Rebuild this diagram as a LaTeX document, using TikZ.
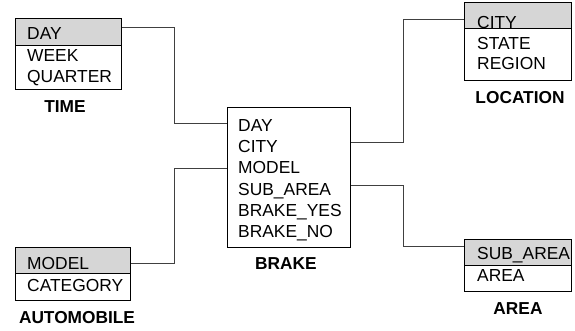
\documentclass[tikz,border=0pt]{standalone}
\usepackage{fontspec}
\setmainfont{Liberation Sans}
\begin{document}
\begin{tikzpicture}[x=1pt,y=-1pt,
  hdr/.style={draw=black,fill=black!16,line width=0.9pt,inner sep=0pt,anchor=north west},
  bodybox/.style={draw=black,fill=white,line width=0.9pt,inner sep=0pt,anchor=north west},
  fld/.style={anchor=base west,inner sep=0pt,font=\fontsize{17.4}{20}\selectfont},
  ttl/.style={anchor=base,inner sep=0pt,font=\fontsize{17.3}{20}\selectfont\bfseries},
  conn/.style={draw=black!75,line width=0.9pt}]
\useasboundingbox (0,0) rectangle (575,330);
% TIME
\node[bodybox,minimum width=106pt,minimum height=71pt] (timeb) at (15,18) {};
\node[hdr,minimum width=106pt,minimum height=27pt] (timeh) at (15,18) {};
\node[fld] (t1) at (27,39) {DAY};
\node[fld] (t2) at (27,61) {WEEK};
\node[fld] (t3) at (27,82) {QUARTER};
\node[ttl] (tl) at (65,112) {TIME};
% BRAKE
\node[bodybox,minimum width=123pt,minimum height=140pt] (brake) at (227,107) {};
\node[fld] (b1) at (238,131) {DAY};
\node[fld] (b2) at (238,152) {CITY};
\node[fld] (b3) at (238,173) {MODEL};
\node[fld] (b4) at (238,195) {SUB\_AREA};
\node[fld] (b5) at (238,216) {BRAKE\_YES};
\node[fld] (b6) at (238,237) {BRAKE\_NO};
\node[ttl] (bl) at (286,269) {BRAKE};
% LOCATION
\node[bodybox,minimum width=107pt,minimum height=78pt] (locb) at (464,2) {};
\node[hdr,minimum width=107pt,minimum height=26pt] (loch) at (464,2) {};
\node[fld] (l1) at (477,28) {CITY};
\node[fld] (l2) at (477,49) {STATE};
\node[fld] (l3) at (477,69) {REGION};
\node[ttl] (ll) at (520,103) {LOCATION};
% AUTOMOBILE
\node[bodybox,minimum width=115pt,minimum height=53pt] (autob) at (15,247) {};
\node[hdr,minimum width=115pt,minimum height=26pt] (autoh) at (15,247) {};
\node[fld] (a1) at (27,269) {MODEL};
\node[fld] (a2) at (27,291) {CATEGORY};
\node[ttl] (al) at (77,323) {AUTOMOBILE};
% AREA
\node[bodybox,minimum width=107pt,minimum height=52pt] (areab) at (464,239) {};
\node[hdr,minimum width=107pt,minimum height=26pt] (areah) at (464,239) {};
\node[fld] (r1) at (477,259) {SUB\_AREA};
\node[fld] (r2) at (477,281) {AREA};
\node[ttl] (rl) at (518,314) {AREA};
% connectors
\coordinate (j1) at (174,27);
\coordinate (j2) at (174,263);
\coordinate (j3) at (403,19);
\coordinate (j4) at (403,246);
\draw[conn] (timeh.east |- j1) -- (j1) |- (brake.west |- 0,123);
\draw[conn] (autoh.east |- j2) -- (j2) |- (brake.west |- 0,168);
\draw[conn] (brake.east |- 0,142) -| (j3) -- (loch.west |- j3);
\draw[conn] (brake.east |- 0,185) -| (j4) -- (areah.west |- j4);
\end{tikzpicture}
\end{document}
